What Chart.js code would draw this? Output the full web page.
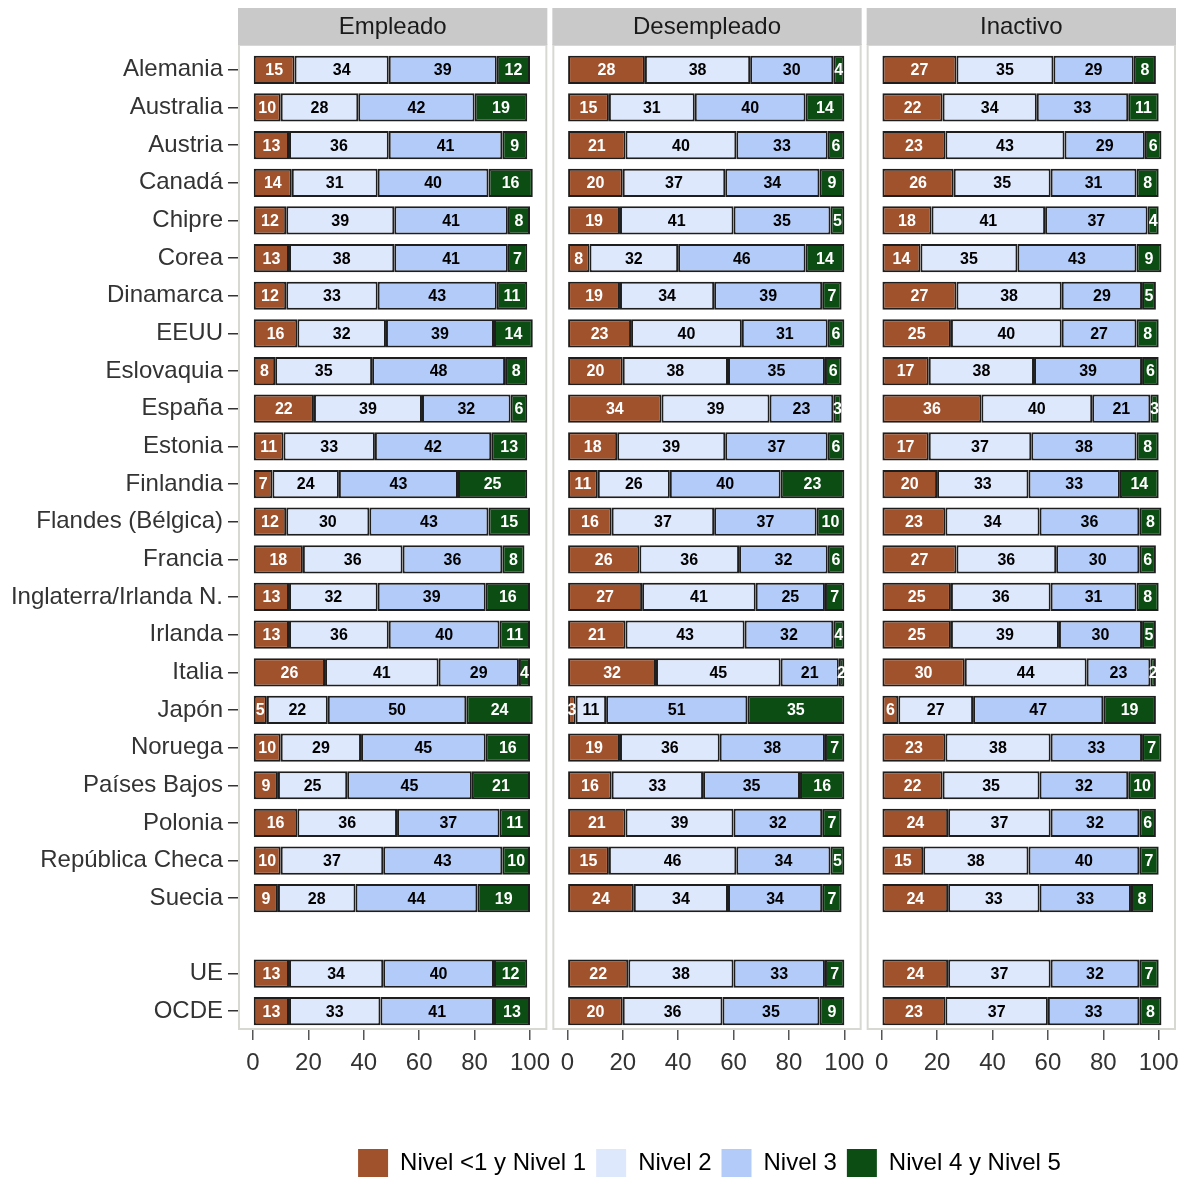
<!DOCTYPE html>
<html>
<head>
<meta charset="utf-8">
<script src="https://cdn.jsdelivr.net/npm/chart.js@4.4.0/dist/chart.umd.min.js"></script>
<style>
  html, body { margin: 0; padding: 0; background: #fff; overflow: hidden; }
  #chart { display: block; }
</style>
</head>
<body>
<canvas id="chart" width="1183" height="1187"></canvas>
<script>
// categorias (fila vacia antes de UE / OCDE)
const paises = ['Alemania', 'Australia', 'Austria', 'Canadá', 'Chipre', 'Corea', 'Dinamarca', 'EEUU',
  'Eslovaquia', 'España', 'Estonia', 'Finlandia', 'Flandes (Bélgica)', 'Francia',
  'Inglaterra/Irlanda N.', 'Irlanda', 'Italia', 'Japón', 'Noruega', 'Países Bajos', 'Polonia',
  'República Checa', 'Suecia', '', 'UE', 'OCDE'];
const paneles = ['Empleado', 'Desempleado', 'Inactivo'];
const niveles = ['Nivel <1 y Nivel 1', 'Nivel 2', 'Nivel 3', 'Nivel 4 y Nivel 5'];
const ticksX = [0, 20, 40, 60, 80, 100];

// Empleado
const empleadoN1 = [15, 10, 13, 14, 12, 13, 12, 16, 8, 22, 11, 7, 12, 18, 13, 13, 26, 5, 10, 9, 16, 10, 9, null, 13, 13];
const empleadoN2 = [34, 28, 36, 31, 39, 38, 33, 32, 35, 39, 33, 24, 30, 36, 32, 36, 41, 22, 29, 25, 36, 37, 28, null, 34, 33];
const empleadoN3 = [39, 42, 41, 40, 41, 41, 43, 39, 48, 32, 42, 43, 43, 36, 39, 40, 29, 50, 45, 45, 37, 43, 44, null, 40, 41];
const empleadoN4 = [12, 19, 9, 16, 8, 7, 11, 14, 8, 6, 13, 25, 15, 8, 16, 11, 4, 24, 16, 21, 11, 10, 19, null, 12, 13];

// Desempleado
const desempleadoN1 = [28, 15, 21, 20, 19, 8, 19, 23, 20, 34, 18, 11, 16, 26, 27, 21, 32, 3, 19, 16, 21, 15, 24, null, 22, 20];
const desempleadoN2 = [38, 31, 40, 37, 41, 32, 34, 40, 38, 39, 39, 26, 37, 36, 41, 43, 45, 11, 36, 33, 39, 46, 34, null, 38, 36];
const desempleadoN3 = [30, 40, 33, 34, 35, 46, 39, 31, 35, 23, 37, 40, 37, 32, 25, 32, 21, 51, 38, 35, 32, 34, 34, null, 33, 35];
const desempleadoN4 = [4, 14, 6, 9, 5, 14, 7, 6, 6, 3, 6, 23, 10, 6, 7, 4, 2, 35, 7, 16, 7, 5, 7, null, 7, 9];

// Inactivo
const inactivoN1 = [27, 22, 23, 26, 18, 14, 27, 25, 17, 36, 17, 20, 23, 27, 25, 25, 30, 6, 23, 22, 24, 15, 24, null, 24, 23];
const inactivoN2 = [35, 34, 43, 35, 41, 35, 38, 40, 38, 40, 37, 33, 34, 36, 36, 39, 44, 27, 38, 35, 37, 38, 33, null, 37, 37];
const inactivoN3 = [29, 33, 29, 31, 37, 43, 29, 27, 39, 21, 38, 33, 36, 30, 31, 30, 23, 47, 33, 32, 32, 40, 33, null, 32, 33];
const inactivoN4 = [8, 11, 6, 8, 4, 9, 5, 8, 6, 3, 8, 14, 8, 6, 8, 5, 2, 19, 7, 10, 6, 7, 8, null, 7, 8];

const colores = ['#A0522D', '#DEE8FD', '#B3CBF9', '#0B4D12'];
const colorTexto = ['#ffffff', '#000000', '#000000', '#ffffff'];
const ejesX = ['x0', 'x1', 'x2'];

const series = [
  [empleadoN1, empleadoN2, empleadoN3, empleadoN4],
  [desempleadoN1, desempleadoN2, desempleadoN3, desempleadoN4],
  [inactivoN1, inactivoN2, inactivoN3, inactivoN4]
];

const datasets = [];
series.forEach((grupo, p) => {
  grupo.forEach((valores, n) => {
    datasets.push({
      label: niveles[n],
      data: valores,
      nivel: n,
      xAxisID: ejesX[p],
      stack: 'todo',
      backgroundColor: colores[n],
      borderColor: '#1e1e1e',
      borderWidth: 2,
      borderSkipped: false,
      barPercentage: 0.75,
      categoryPercentage: 1
    });
  });
});

// fondo de paneles y cabeceras
const panelPlugin = {
  id: 'paneles',
  beforeDraw(chart) {
    const ctx = chart.ctx;
    const area = chart.chartArea;
    ejesX.forEach((id, i) => {
      const s = chart.scales[id];
      const left = s.left;
      const w = s.width - 5;
      ctx.save();
      ctx.fillStyle = '#ffffff';
      ctx.fillRect(left, area.top - 6, w, area.bottom - area.top + 6);
      ctx.strokeStyle = '#d8d8d2';
      ctx.lineWidth = 2;
      ctx.strokeRect(left + 1, area.top - 6, w - 2, area.bottom - area.top + 5);
      ctx.fillStyle = '#c9c9c9';
      ctx.fillRect(left, 8, w, area.top - 6 - 8);
      ctx.fillStyle = '#1a1a1a';
      ctx.font = '24px "Liberation Sans"';
      ctx.textAlign = 'center';
      ctx.textBaseline = 'middle';
      ctx.fillText(paneles[i], left + w / 2, (8 + area.top - 6) / 2 + 1);
      ctx.restore();
    });
  }
};

// numeros dentro de las barras
const etiquetasPlugin = {
  id: 'etiquetas',
  afterDatasetsDraw(chart) {
    const ctx = chart.ctx;
    ctx.save();
    ctx.font = 'bold 16px "Liberation Sans"';
    ctx.textAlign = 'center';
    ctx.textBaseline = 'middle';
    chart.data.datasets.forEach((ds, i) => {
      const meta = chart.getDatasetMeta(i);
      meta.data.forEach((bar, j) => {
        const v = ds.data[j];
        if (v == null) return;
        ctx.fillStyle = colorTexto[ds.nivel];
        ctx.fillText(String(v), (bar.x + bar.base) / 2, bar.y + 1);
      });
    });
    ctx.restore();
  }
};

function ejeX(id) {
  return {
    type: 'linear',
    position: 'bottom',
    stack: 'paneles',
    stackWeight: 1,
    stacked: true,
    min: -5.42,
    max: 108.06,
    afterBuildTicks: s => { s.ticks = ticksX.map(v => ({ value: v })); },
    afterFit: s => {
      s.height = 109;
      s.paddingLeft = 0;
      s.paddingRight = 0;
    },
    border: { display: false },
    grid: { drawOnChartArea: false, drawTicks: true, tickLength: 10, color: '#555555', lineWidth: 1.5 },
    ticks: {
      autoSkip: false, maxRotation: 0, padding: 9,
      color: '#333333',
      font: { size: 24, family: 'Liberation Sans' }
    }
  };
}

const ctx = document.getElementById('chart').getContext('2d');
new Chart(ctx, {
  type: 'bar',
  data: { labels: paises, datasets: datasets },
  options: {
    indexAxis: 'y',
    responsive: false,
    animation: false,
    devicePixelRatio: 1,
    layout: { autoPadding: false, padding: { top: 51, right: 2, left: 0, bottom: 0 } },
    scales: {
      y: {
        type: 'category',
        position: 'left',
        stacked: true,
        offset: true,
        afterFit: s => { s.width = 238; },
        border: { display: false },
        grid: {
          offset: false, drawOnChartArea: false, drawTicks: true, tickLength: 10, lineWidth: 1.5,
          color: c => (c.index === 23 ? 'rgba(0,0,0,0)' : '#333333')
        },
        ticks: {
          autoSkip: false, padding: 5,
          color: '#333333',
          font: { size: 24, family: 'Liberation Sans' }
        }
      },
      x0: ejeX('x0'),
      x1: ejeX('x1'),
      x2: ejeX('x2')
    },
    plugins: {
      tooltip: { enabled: false },
      legend: {
        position: 'bottom',
        fullSize: false,
        labels: {
          boxWidth: 30, boxHeight: 28, padding: 10,
          color: '#1a1a1a',
          font: { size: 24, family: 'Liberation Sans' },
          generateLabels: () => niveles.map((n, i) => ({
            text: n, fillStyle: colores[i], strokeStyle: colores[i], lineWidth: 0,
            hidden: false, datasetIndex: i
          }))
        }
      }
    }
  },
  plugins: [panelPlugin, etiquetasPlugin]
});
</script>
</body>
</html>
